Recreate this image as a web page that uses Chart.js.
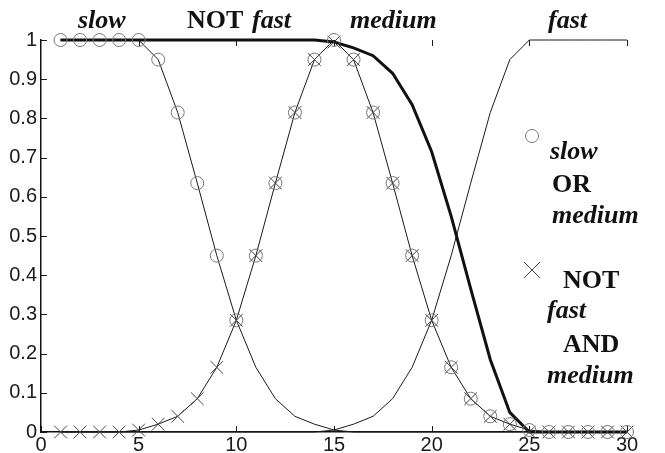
<!DOCTYPE html>
<html>
<head>
<meta charset="utf-8">
<script src="https://cdn.jsdelivr.net/npm/chart.js@4.4.1/dist/chart.umd.min.js"></script>
<style>
  body{ margin:0; background:#fff; }
  canvas{ display:block; }
</style>
</head>
<body>
<canvas id="chart" width="665" height="453"></canvas>
<script>
const xs = [1,2,3,4,5,6,7,8,9,10,11,12,13,14,15,16,17,18,19,20,21,22,23,24,25,26,27,28,29,30];
const xTicks = [0,5,10,15,20,25,30];
const yTicks = [0,0.1,0.2,0.3,0.4,0.5,0.6,0.7,0.8,0.9,1];

// membership curves (thin lines)
const slow   = [1,1,1,1,1,0.95,0.815,0.635,0.45,0.285,0.165,0.085,0.04,0.02,0.005,0,0,0,0,0,0,0,0,0,0,0,0,0,0,0];
const medium = [0,0,0,0,0.005,0.02,0.04,0.085,0.165,0.285,0.45,0.635,0.815,0.95,1,0.95,0.815,0.635,0.45,0.285,0.165,0.085,0.04,0.02,0.005,0,0,0,0,0];
const fast   = [0,0,0,0,0,0,0,0,0,0,0,0,0,0,0.005,0.02,0.04,0.085,0.165,0.285,0.45,0.635,0.815,0.95,1,1,1,1,1,1];
// bold line
const notFast = [1,1,1,1,1,1,1,1,1,1,1,1,1,1,0.995,0.98,0.96,0.915,0.835,0.715,0.55,0.365,0.185,0.05,0,0,0,0,0,0];
// markers
const slowOrMedium = [1,1,1,1,1,0.95,0.815,0.635,0.45,0.285,0.45,0.635,0.815,0.95,1,0.95,0.815,0.635,0.45,0.285,0.165,0.085,0.04,0.02,0.005,0,0,0,0,0];
const notFastAndMedium = [0,0,0,0,0.005,0.02,0.04,0.085,0.165,0.285,0.45,0.635,0.815,0.95,0.995,0.95,0.815,0.635,0.45,0.285,0.165,0.085,0.04,0.02,0,0,0,0,0,0];

const pts = arr => xs.map((x,i)=>({x, y:arr[i]}));

const thin = (label, arr) => ({
  label, data: pts(arr), borderColor:'#1a1a1a', borderWidth:1,
  pointRadius:0, tension:0, order:3
});

const F_BI = 'italic bold 26px "Liberation Serif"';
const F_B  = 'bold 26px "Liberation Serif"';

// inward ticks, top labels and the marker legend on the right
const textPlugin = {
  id:'texts',
  afterDraw(chart){
    const ctx = chart.ctx;
    const {x, y} = chart.scales;
    const a = chart.chartArea;
    ctx.save();
    ctx.strokeStyle = '#1a1a1a';
    ctx.lineWidth = 1;
    ctx.beginPath();
    yTicks.forEach(v=>{
      const py = Math.round(y.getPixelForValue(v)) + 0.5;
      ctx.moveTo(a.left, py); ctx.lineTo(a.left + 6, py);
    });
    xTicks.forEach(v=>{
      const px = Math.round(x.getPixelForValue(v)) + 0.5;
      ctx.moveTo(px, a.bottom); ctx.lineTo(px, a.bottom - 6);
      if(v>0){ ctx.moveTo(px, a.top); ctx.lineTo(px, a.top + 6); }
    });
    ctx.stroke();

    ctx.fillStyle = '#111';
    ctx.textBaseline = 'alphabetic';
    ctx.textAlign = 'left';
    const put = (t, f, px, py) => { ctx.font = f; ctx.fillText(t, px, py); };
    // top
    put('slow', F_BI, 78, 28);
    put('NOT', F_B, 187, 28);
    put('fast', F_BI, 252, 28);
    put('medium', F_BI, 350, 28);
    put('fast', F_BI, 548, 28);
    // legend
    ctx.strokeStyle = '#777';
    ctx.beginPath();
    ctx.arc(532, 136, 6.5, 0, Math.PI*2);
    ctx.stroke();
    put('slow', F_BI, 550, 159);
    put('OR', F_B, 552, 192);
    put('medium', F_BI, 552, 223);
    ctx.strokeStyle = '#444';
    ctx.beginPath();
    ctx.moveTo(524, 262); ctx.lineTo(540, 278);
    ctx.moveTo(540, 262); ctx.lineTo(524, 278);
    ctx.stroke();
    put('NOT', F_B, 563, 288);
    put('fast', F_BI, 547, 318);
    put('AND', F_B, 563, 352);
    put('medium', F_BI, 547, 383);
    ctx.restore();
  }
};

const tickFont = { family:'"Liberation Sans", Arial, sans-serif', size:20 };

new Chart(document.getElementById('chart').getContext('2d'), {
  type:'line',
  data:{
    datasets:[
      { label:'slow OR medium', data: pts(slowOrMedium), showLine:false,
        pointStyle:'circle', pointRadius:6.5, pointBorderColor:'#777', pointBackgroundColor:'rgba(0,0,0,0)',
        pointBorderWidth:1, order:0 },
      { label:'NOT fast AND medium', data: pts(notFastAndMedium), showLine:false,
        pointStyle:'crossRot', pointRadius:9, pointBorderColor:'#444', pointBorderWidth:1, order:1 },
      { label:'NOT fast', data: pts(notFast), borderColor:'#111', borderWidth:3,
        pointRadius:0, tension:0, order:2 },
      thin('slow', slow),
      thin('medium', medium),
      thin('fast', fast)
    ]
  },
  options:{
    responsive:false, animation:false,
    clip:false,
    layout:{ padding:{ top:40, right:38, left:0, bottom:0 } },
    plugins:{ legend:{ display:false }, tooltip:{ enabled:false } },
    scales:{
      x:{
        type:'linear', min:0, max:30,
        grid:{ display:false, drawTicks:false },
        border:{ display:true, color:'#111', width:1.5 },
        ticks:{ font:tickFont, color:'#1a1a1a', padding:1, maxRotation:0, autoSkip:false },
        afterBuildTicks: s => { s.ticks = xTicks.map(v=>({value:v})); },
        afterFit: s => { s.height = 21; }
      },
      y:{
        min:0, max:1,
        grid:{ display:false, drawTicks:false },
        border:{ display:true, color:'#111', width:1.5 },
        ticks:{ font:tickFont, color:'#1a1a1a', padding:4, callback: v => String(v) },
        afterBuildTicks: s => { s.ticks = yTicks.map(v=>({value:v})); },
        afterFit: s => { s.width = 41; }
      }
    }
  },
  plugins:[textPlugin]
});
</script>
</body>
</html>
